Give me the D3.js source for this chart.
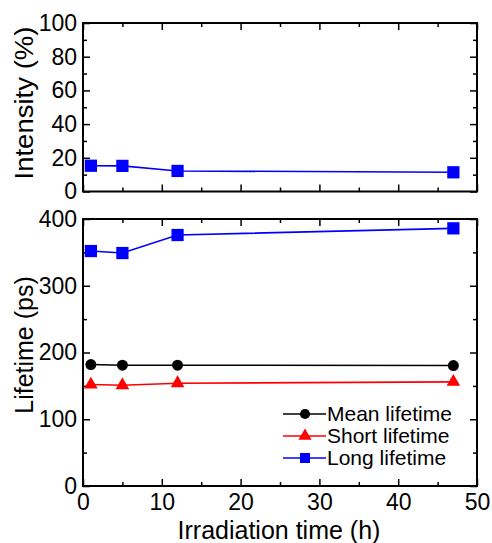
<!DOCTYPE html>
<html>
<head>
<meta charset="utf-8">
<script src="https://cdn.jsdelivr.net/npm/d3@7"></script>
<style>
  body { margin: 0; background: #fff; }
  text { font-family: Arial, "Liberation Sans", sans-serif; fill: #000; }
</style>
</head>
<body>
<div id="chart"></div>
<script>
// Irradiation time (h)
const hours = [1, 5, 12, 47];
const intensity = [15.3, 15.2, 12.2, 11.4];      // long-lifetime intensity (%)
const meanLifetime = [182, 181, 181, 180.5];     // ps
const shortLifetime = [152, 151, 154, 156];      // ps
const longLifetime = [352, 349, 376, 386];       // ps

const xMajor = [0, 10, 20, 30, 40, 50];
const xMinor = [5, 15, 25, 35, 45];
const intMajor = [0, 20, 40, 60, 80, 100];
const intMinor = [10, 30, 50, 70, 90];
const lifeMajor = [0, 100, 200, 300, 400];
const lifeMinor = [50, 150, 250, 350];

const legendItems = [
  { label: 'Mean lifetime', color: '#000000', shape: 'circle' },
  { label: 'Short lifetime', color: '#ff0000', shape: 'triangle' },
  { label: 'Long lifetime', color: '#0000ff', shape: 'square' },
];

const W = 492, H = 543;
const L = 83, R = 477;
const top1 = 23, bot1 = 191.5;
const top2 = 219, bot2 = 486;

const svg = d3.select('#chart').append('svg')
  .attr('width', W).attr('height', H);

const x = d3.scaleLinear().domain([0, 50]).range([L, R]);
const yInt = d3.scaleLinear().domain([0, 100]).range([bot1, top1]);
const yLife = d3.scaleLinear().domain([0, 400]).range([bot2, top2]);

const MAJ = 7, MIN = 4;

// inward ticks on all four sides of a panel
function frame(y, yMaj, yMin, showX) {
  const [yb, yt] = y.range();
  const mk = (axis, tr) => svg.append('g').attr('transform', tr).call(axis)
    .call(g => g.select('.domain').remove())
    .call(g => g.selectAll('line').attr('stroke', '#000').attr('stroke-width', 1.5));

  const fontStyle = g => g.selectAll('text').attr('font-size', 23).attr('fill', '#000')
    .attr('font-family', 'Arial, "Liberation Sans", sans-serif');

  // bottom
  mk(d3.axisBottom(x).tickValues(xMajor).tickSize(-MAJ).tickPadding(8)
      .tickFormat(showX ? d3.format('d') : ''), `translate(0,${yb})`).call(fontStyle);
  mk(d3.axisBottom(x).tickValues(xMinor).tickSize(-MIN).tickFormat(''), `translate(0,${yb})`);
  // top
  mk(d3.axisTop(x).tickValues(xMajor).tickSize(-MAJ).tickFormat(''), `translate(0,${yt})`);
  mk(d3.axisTop(x).tickValues(xMinor).tickSize(-MIN).tickFormat(''), `translate(0,${yt})`);
  // left
  mk(d3.axisLeft(y).tickValues(yMaj).tickSize(-MAJ).tickPadding(6).tickFormat(d3.format('d')),
      `translate(${L},0)`).call(fontStyle);
  mk(d3.axisLeft(y).tickValues(yMin).tickSize(-MIN).tickFormat(''), `translate(${L},0)`);
  // right
  mk(d3.axisRight(y).tickValues(yMaj).tickSize(-MAJ).tickFormat(''), `translate(${R},0)`);
  mk(d3.axisRight(y).tickValues(yMin).tickSize(-MIN).tickFormat(''), `translate(${R},0)`);

  svg.append('rect')
    .attr('x', L).attr('y', yt).attr('width', R - L).attr('height', yb - yt)
    .attr('fill', 'none').attr('stroke', '#000').attr('stroke-width', 2);
}

frame(yInt, intMajor, intMinor, false);
frame(yLife, lifeMajor, lifeMinor, true);

const symbolFor = {
  circle: d3.symbol().type(d3.symbolCircle).size(95),
  triangle: d3.symbol().type(d3.symbolTriangle).size(80),
  square: d3.symbol().type(d3.symbolSquare).size(150),
};

function series(values, y, color, shape) {
  const pts = hours.map((h, i) => [h, values[i]]);
  svg.append('path')
    .datum(pts)
    .attr('fill', 'none')
    .attr('stroke', color)
    .attr('stroke-width', 1.6)
    .attr('d', d3.line().x(d => x(d[0])).y(d => y(d[1])));
  svg.selectAll(null)
    .data(pts)
    .join('path')
    .attr('transform', d => `translate(${x(d[0])},${y(d[1])})`)
    .attr('d', symbolFor[shape])
    .attr('fill', color);
}

series(intensity, yInt, '#0000ff', 'square');
series(longLifetime, yLife, '#0000ff', 'square');
series(meanLifetime, yLife, '#000000', 'circle');
series(shortLifetime, yLife, '#ff0000', 'triangle');

// legend
const legSym = {
  circle: d3.symbol().type(d3.symbolCircle).size(80),
  triangle: d3.symbol().type(d3.symbolTriangle).size(75),
  square: d3.symbol().type(d3.symbolSquare).size(100),
};
const leg = svg.append('g').attr('transform', 'translate(283,414)');
leg.selectAll('g')
  .data(legendItems)
  .join('g')
  .attr('transform', (d, i) => `translate(0,${i * 22})`)
  .call(g => {
    g.append('line')
      .attr('x1', 0).attr('x2', 43)
      .attr('stroke', d => d.color).attr('stroke-width', 1.6);
    g.append('path')
      .attr('transform', 'translate(22,0)')
      .attr('d', d => legSym[d.shape]())
      .attr('fill', d => d.color);
    g.append('text')
      .attr('x', 44)
      .attr('dy', '0.35em')
      .attr('font-size', 21)
      .text(d => d.label);
  });

// axis titles
svg.append('text')
  .attr('x', (L + R) / 2 - 1).attr('y', 539)
  .attr('text-anchor', 'middle')
  .attr('font-size', 25)
  .text('Irradiation time (h)');

svg.append('text')
  .attr('transform', 'translate(33,103) rotate(-90)')
  .attr('text-anchor', 'middle')
  .attr('font-size', 25)
  .attr('textLength', 153)
  .attr('lengthAdjust', 'spacingAndGlyphs')
  .text('Intensity (%)');

svg.append('text')
  .attr('transform', 'translate(33,345) rotate(-90)')
  .attr('text-anchor', 'middle')
  .attr('font-size', 25)
  .text('Lifetime (ps)');
</script>
</body>
</html>
